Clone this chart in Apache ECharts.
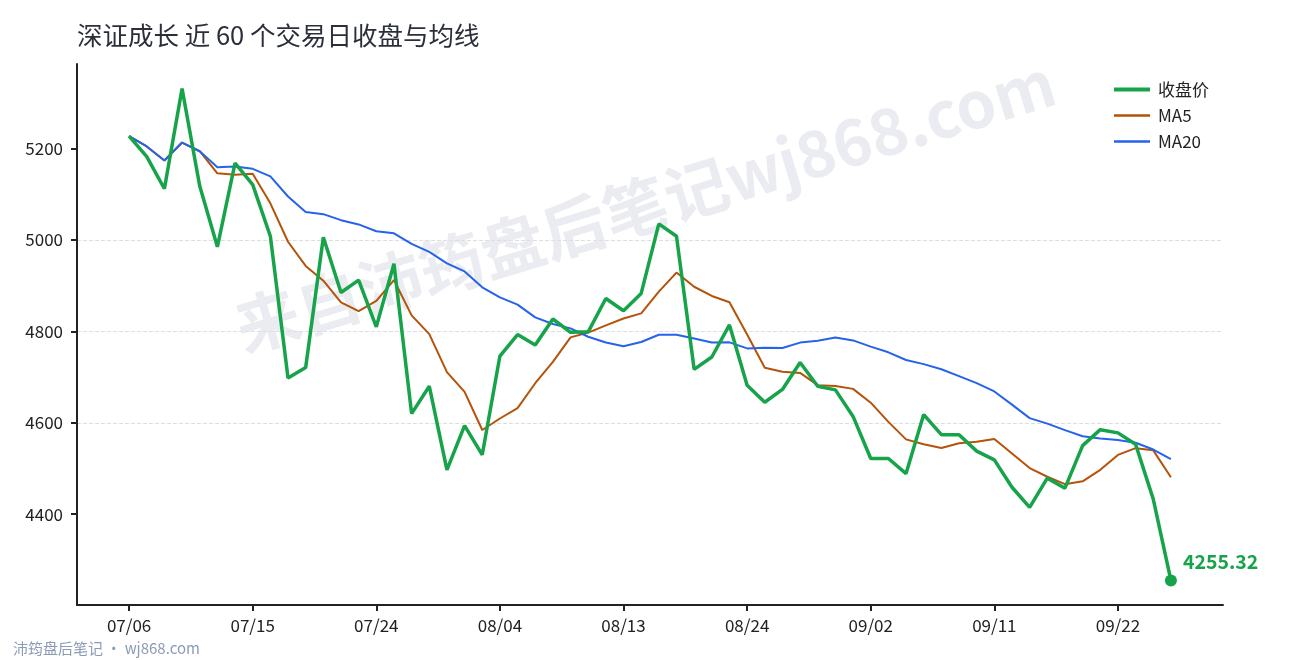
<!DOCTYPE html>
<html><head><meta charset="utf-8">
<script src="https://cdn.jsdelivr.net/npm/echarts@6/dist/echarts.min.js"></script>
<style>html,body{margin:0;padding:0;background:#fff}#c{width:1290px;height:660px}</style>
</head><body><div id="c"></div>
<script>
const dates = ['07/06','07/07','07/08','07/09','07/10','07/13','07/14','07/15','07/16','07/17',
  '07/20','07/21','07/22','07/23','07/24','07/27','07/28','07/29','07/30','07/31',
  '08/03','08/04','08/05','08/06','08/07','08/10','08/11','08/12','08/13','08/14',
  '08/17','08/18','08/19','08/20','08/21','08/24','08/25','08/26','08/27','08/28',
  '08/31','09/01','09/02','09/03','09/04','09/07','09/08','09/09','09/10','09/11',
  '09/14','09/15','09/16','09/17','09/18','09/21','09/22','09/23','09/24','09/25'];
const closes = [5227,5182,5112,5331,5118,4985,5168,5121,5008,4698,
  4721,5006,4885,4912,4810,4948,4620,4680,4497,4594,
  4530,4746,4793,4770,4827,4798,4799,4872,4845,4883,
  5035,5008,4717,4744,4814,4682,4645,4673,4732,4680,
  4672,4614,4522,4522,4489,4618,4574,4574,4538,4519,
  4459,4415,4479,4457,4550,4585,4578,4553,4433,4255.32];
const ma5 = [5227,5204.5,5173.7,5213,5194,5145.6,5142.8,5144.6,5080,4996,
  4943.2,4910.8,4863.6,4844.4,4866.8,4912.2,4835,4794,4711,4667.8,
  4584.2,4609.4,4632,4686.6,4733.2,4786.8,4797.4,4813.2,4828.2,4839.4,
  4886.8,4928.6,4897.6,4877.4,4863.6,4793,4720.4,4711.6,4709.2,4682.4,
  4680.4,4674.2,4644,4602,4563.8,4553,4545,4555.4,4558.6,4564.6,
  4532.8,4501,4482,4465.8,4472,4497.2,4529.8,4544.6,4539.8,4480.9];
const ma20 = [5227,5204.5,5173.7,5213,5194,5159.2,5160.4,5155.5,5139.1,5095,
  5061,5056.4,5043.2,5033.9,5018.9,5014.5,4991.3,4974,4948.9,4931.2,
  4896.3,4874.5,4858.6,4830.5,4816,4806.6,4788.2,4775.7,4767.6,4776.8,
  4792.5,4792.6,4784.2,4775.8,4776,4762.7,4764,4763.6,4775.4,4779.7,
  4786.8,4780.2,4766.6,4754.2,4737.3,4728.3,4717.1,4702.2,4686.8,4668.6,
  4639.8,4610.2,4598.3,4583.9,4570.7,4565.9,4562.5,4556.5,4541.6,4520.3];
const xTickIndex = [0,7,14,21,28,35,42,49,56];
const yTicks = [4400,4600,4800,5000,5200];

const FONT = "'Noto Sans CJK SC','Noto Sans',sans-serif";
const GREEN = '#16a34a', ORANGE = '#b45309', BLUE = '#2563eb';
const last = closes.length - 1;

// legend line icons: tiny corner dots keep the bounding box at full item size
const thickIcon = 'path://M0,0h0.01v0.01h-0.01z M0,5h36v4h-36z M35.99,13.99h0.01v0.01h-0.01z';
const thinIcon = 'path://M0,0h0.01v0.01h-0.01z M0,5.8h36v2.4h-36z M35.99,13.99h0.01v0.01h-0.01z';

const closeData = closes.map((v, i) => i === last ? {
  value: [i, v], symbol: 'circle', symbolSize: 12,
  itemStyle: {color: GREEN},
  label: {show: true, position: 'right', distance: 6, offset: [0, -19],
    formatter: () => v.toFixed(2), color: GREEN, fontSize: 19.5, fontWeight: 'bold', fontFamily: FONT}
} : [i, v]);

const chart = echarts.init(document.getElementById('c'), null, {renderer: 'canvas'});
chart.setOption({
  animation: false,
  backgroundColor: '#fff',
  textStyle: {fontFamily: FONT},
  title: {text: '深证成长 近 60 个交易日收盘与均线', left: 77, top: 23, padding: 0,
    textStyle: {fontSize: 25.5, fontWeight: 'normal', color: '#2b2f3a', fontFamily: FONT}},
  legend: {orient: 'vertical', left: 1109, top: 76, itemWidth: 36, itemHeight: 14, itemGap: 9,
    data: [{name: '收盘价', icon: thickIcon}, {name: 'MA5', icon: thinIcon}, {name: 'MA20', icon: thinIcon}],
    textStyle: {fontSize: 17, color: '#222', fontFamily: FONT, padding: [0, 0, 0, 3]}},
  grid: {left: 77, right: 67, top: 64, bottom: 55},
  xAxis: {type: 'value', min: -2.95, max: 61.95,
    axisLine: {show: true, onZero: false, lineStyle: {color: '#222', width: 2}},
    axisTick: {show: true, length: 6, customValues: xTickIndex, lineStyle: {color: '#222', width: 2}},
    axisLabel: {customValues: xTickIndex, formatter: v => dates[v] || '', fontSize: 17, color: '#222', margin: 12, fontFamily: FONT},
    splitLine: {show: false}},
  yAxis: {type: 'value', min: 4201.5, max: 5384.8,
    axisLine: {show: true, onZero: false, lineStyle: {color: '#222', width: 2}},
    axisTick: {show: true, length: 6, customValues: yTicks, lineStyle: {color: '#222', width: 2}},
    axisLabel: {customValues: yTicks, formatter: v => String(v), fontSize: 17, color: '#222', margin: 14, fontFamily: FONT},
    splitLine: {show: true, showMinLine: false, showMaxLine: false, lineStyle: {color: '#dedede', type: 'dashed', width: 1}}},
  graphic: [
    {type: 'text', x: 645, y: 205, rotation: 17 * Math.PI / 180, z: 0, silent: true,
      style: {text: '来自沛筠盘后笔记wj868.com', fill: '#eaecf1', font: "bold 64px 'Noto Sans CJK SC'", align: 'center', verticalAlign: 'middle'}},
    {type: 'text', left: 13, top: 641, silent: true,
      style: {text: '沛筠盘后笔记 · wj868.com', fill: '#8c9bb5', font: "15px 'Noto Sans CJK SC'"}}
  ],
  series: [
    {name: '收盘价', type: 'line', data: closeData, symbol: 'none', showSymbol: true,
      lineStyle: {color: GREEN, width: 3.5}, itemStyle: {color: GREEN}, z: 4},
    {name: 'MA5', type: 'line', data: ma5.map((v, i) => [i, v]), symbol: 'none',
      lineStyle: {color: ORANGE, width: 2}, itemStyle: {color: ORANGE}, z: 3},
    {name: 'MA20', type: 'line', data: ma20.map((v, i) => [i, v]), symbol: 'none',
      lineStyle: {color: BLUE, width: 2}, itemStyle: {color: BLUE}, z: 3}
  ]
});
</script>
</body></html>
